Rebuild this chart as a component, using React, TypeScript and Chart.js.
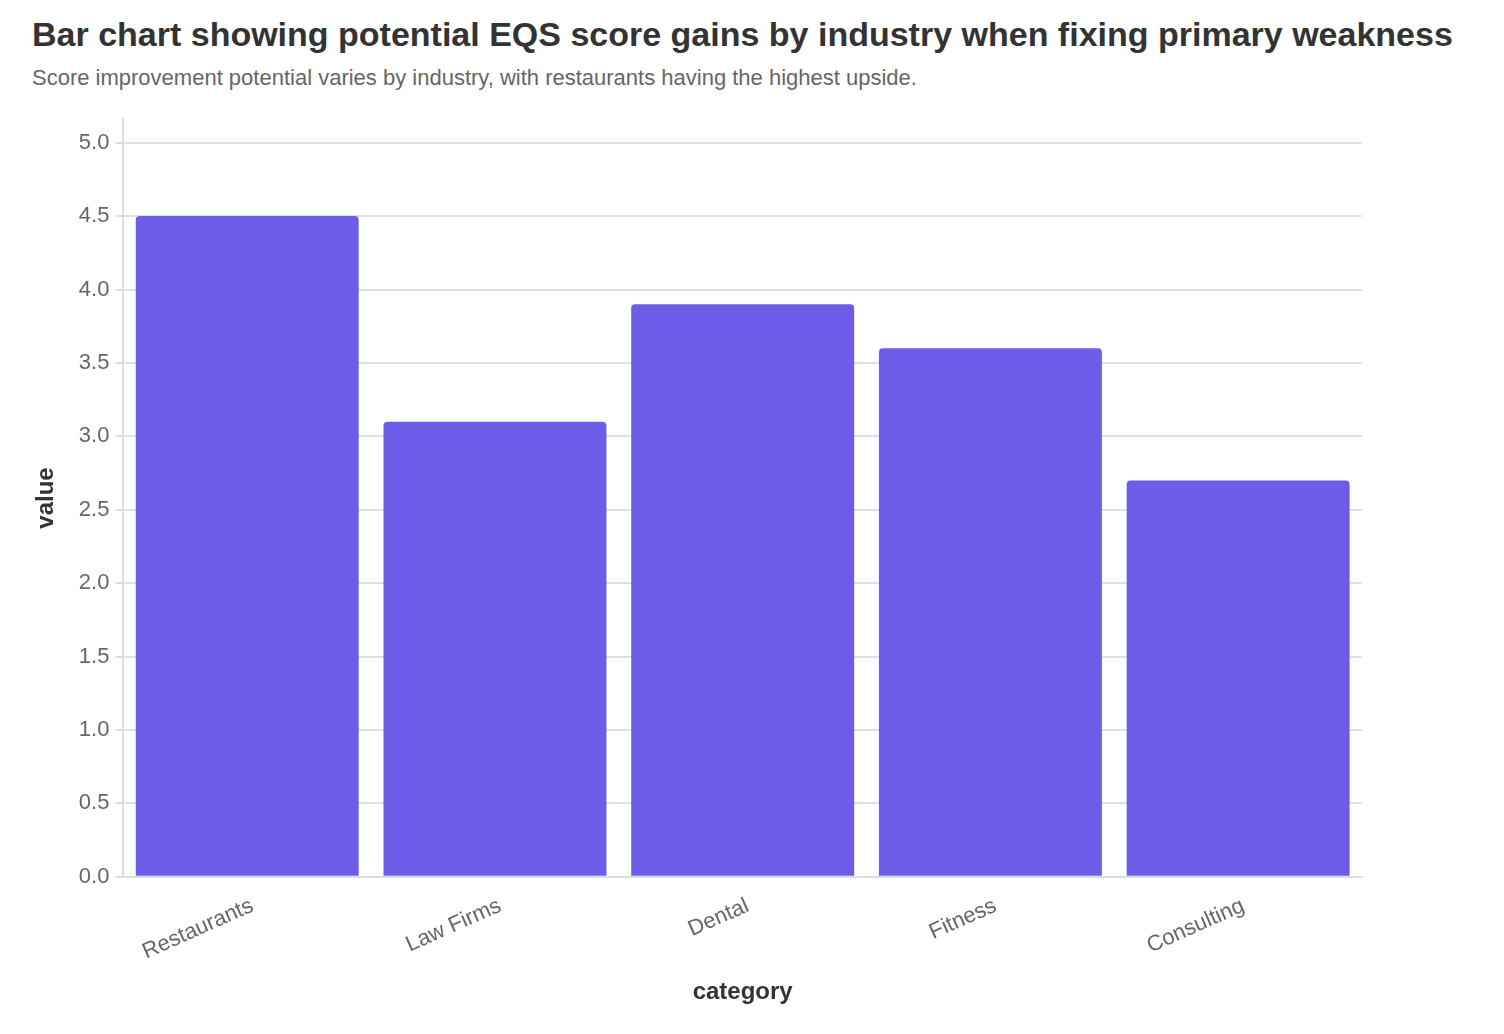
import { useEffect, useRef } from "react";
import Chart from "chart.js/auto";

const categories = ["Restaurants", "Law Firms", "Dental", "Fitness", "Consulting"];
const scoreGains = [4.5, 3.1, 3.9, 3.6, 2.7];
const yTickValues = [0, 0.5, 1, 1.5, 2, 2.5, 3, 3.5, 4, 4.5, 5];

const FONT = "'Liberation Sans', Arial, Helvetica, sans-serif";

export default function App() {
  const chartRef = useRef<HTMLCanvasElement>(null);

  useEffect(() => {
    document.body.style.margin = "0";
    if (!chartRef.current) return;
    const ctx = chartRef.current.getContext("2d");
    if (!ctx) return;
    Chart.getChart(chartRef.current)?.destroy();

    const chart = new Chart(ctx, {
      type: "bar",
      data: {
        labels: categories,
        datasets: [
          {
            label: "value",
            data: scoreGains,
            backgroundColor: "#6c5ce7",
            borderRadius: { topLeft: 4, topRight: 4 },
            borderSkipped: "bottom",
            barPercentage: 0.9,
            categoryPercentage: 1,
          },
        ],
      },
      options: {
        animation: false,
        responsive: true,
        maintainAspectRatio: false,
        layout: { padding: { top: 18, right: 142, bottom: 23, left: 28 } },
        plugins: {
          legend: { display: false },
          tooltip: { enabled: false },
        },
        scales: {
          x: {
            grid: { display: false, drawTicks: true, tickLength: 8, tickColor: "#dddddd" },
            border: { color: "#dddddd", width: 2 },
            ticks: {
              color: "#666666",
              font: { family: FONT, size: 22 },
              maxRotation: 24,
              minRotation: 24,
              padding: 8,
              labelOffset: 5,
            },
            title: {
              display: true,
              text: "category",
              color: "#333333",
              font: { family: FONT, size: 24, weight: "bold" },
              padding: { top: 5 },
            },
          },
          y: {
            min: 0,
            max: 5.16,
            afterBuildTicks: (scale: any) => {
              scale.ticks = yTickValues.map((v) => ({ value: v }));
            },
            grid: { color: "#e0e0e0", lineWidth: 2, tickLength: 8, tickColor: "#dddddd" },
            border: { color: "#dddddd", width: 2 },
            ticks: {
              color: "#666666",
              font: { family: FONT, size: 22 },
              padding: 6,
              callback: (v: any) => Number(v).toFixed(1),
            },
            title: {
              display: true,
              text: "value",
              color: "#333333",
              font: { family: FONT, size: 24, weight: "bold" },
              padding: { bottom: 12 },
            },
          },
        },
      },
    });

    return () => chart.destroy();
  }, []);

  return (
    <div style={{ width: 1504, height: 1034, background: "#ffffff", fontFamily: FONT, position: "relative" }}>
      <div style={{ position: "absolute", left: 32, top: 15, fontSize: 34, fontWeight: "bold", color: "#333333", whiteSpace: "nowrap" }}>
        Bar chart showing potential EQS score gains by industry when fixing primary weakness
      </div>
      <div style={{ position: "absolute", left: 32, top: 65, fontSize: 22, color: "#666666", whiteSpace: "nowrap" }}>
        Score improvement potential varies by industry, with restaurants having the highest upside.
      </div>
      <div style={{ position: "absolute", left: 0, top: 100, width: 1504, height: 934 }}>
        <canvas ref={chartRef}></canvas>
      </div>
    </div>
  );
}
